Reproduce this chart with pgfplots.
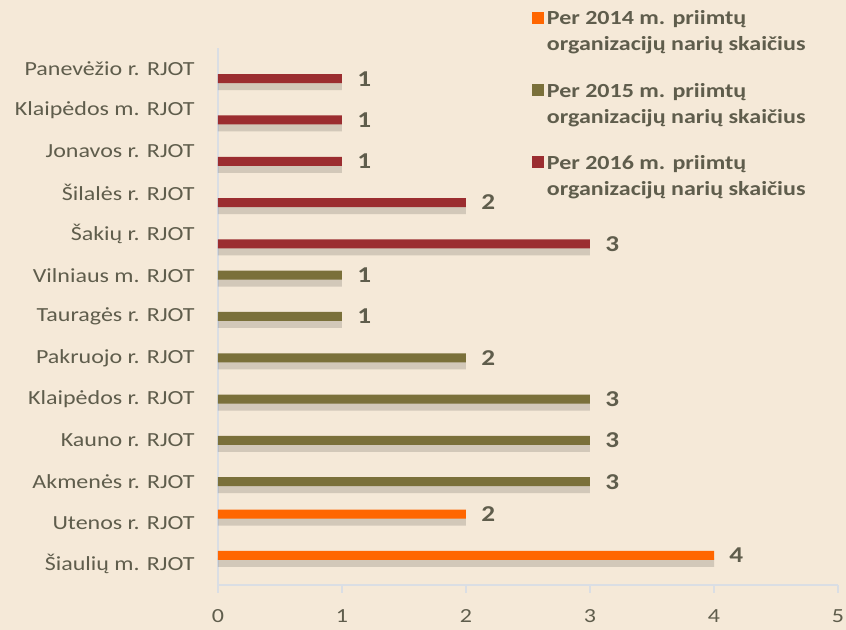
\documentclass[border=0pt]{standalone}
\usepackage{pgfplots}
\pgfplotsset{compat=1.18}
\usepackage{fontspec}
\setmainfont[FakeStretch=1.2]{Carlito}
\definecolor{bgc}{RGB}{245,233,216}
\definecolor{txt}{RGB}{95,93,76}
\definecolor{axc}{RGB}{218,222,228}
\definecolor{c14}{RGB}{255,102,0}
\definecolor{c15}{RGB}{122,112,58}
\definecolor{c16}{RGB}{155,45,48}

\begin{document}
\begin{tikzpicture}
\fill[bgc] (-163.5pt,-33.75pt) rectangle (471pt,438.75pt);
\begin{axis}[
    at={(0,0)}, anchor=south west,
    scale only axis,
    width=465pt, height=402.75pt,
    xbar, bar width=6.75pt,
    xmin=0, xmax=5, ymin=-0.5, ymax=12.5,
    axis x line*=bottom, axis y line*=left,
    axis line style={axc, line width=0.8pt},
    xtick={0,1,2,3,4,5},
    ytick={0,...,12},
    yticklabels={Šiaulių m. RJOT, Utenos r. RJOT, Akmenės r. RJOT, Kauno r. RJOT,
      Klaipėdos r. RJOT, Pakruojo r. RJOT, Tauragės r. RJOT, Vilniaus m. RJOT,
      Šakių r. RJOT, Šilalės r. RJOT, Jonavos r. RJOT, Klaipėdos m. RJOT, Panevėžio r. RJOT},
    minor ytick={-0.5,0.5,...,12.5},
    tick align=outside,
    major tick style={axc, line width=0.8pt},
    minor tick style={axc, line width=0.8pt},
    ytick style={draw=none},
    minor tick length=6pt,
    xtick style={axc, line width=0.8pt},
    major tick length=6pt,
    yticklabel style={font=\fontsize{15}{18}\selectfont, text=txt, xshift=-8pt},
    xticklabel style={font=\fontsize{15}{18}\selectfont, text=txt, yshift=-9pt},
    /pgf/number format/assume math mode=true,
    clip=false,
    nodes near coords,
    nodes near coords style={font=\bfseries\fontsize{17}{20}\selectfont, text=txt, anchor=west, xshift=8pt},
    legend style={at={(0.5,1.105)}, anchor=north west, draw=none, fill=none,
      font=\bfseries\fontsize{15}{19.5}\selectfont, text=txt,
      cells={align=left, anchor=north west}, row sep=8.5pt,
      /tikz/every even column/.append style={column sep=11pt}},
    legend image code/.code={\path (0pt,10pt); \fill[#1] (0pt,-11.75pt) rectangle (9pt,-2.75pt);},
]
% shadows
\addplot[forget plot, fill=black, opacity=0.14, draw=none, bar shift=1.5pt, nodes near coords={}] coordinates {(4,0) (2,1)};
\addplot[forget plot, fill=black, opacity=0.14, draw=none, bar shift=-5.25pt, nodes near coords={}] coordinates {(3,2) (3,3) (3,4) (2,5) (1,6) (1,7)};
\addplot[forget plot, fill=black, opacity=0.14, draw=none, bar shift=-12.75pt, nodes near coords={}] coordinates {(3,8) (2,9) (1,10) (1,11) (1,12)};
% bars
\addplot[fill=c14, draw=none, bar shift=6.75pt] coordinates {(4,0) (2,1)};
\addlegendentry{Per 2014 m. priimtų\\organizacijų narių skaičius}
\addplot[fill=c15, draw=none, bar shift=0pt] coordinates {(3,2) (3,3) (3,4) (2,5) (1,6) (1,7)};
\addlegendentry{Per 2015 m. priimtų\\organizacijų narių skaičius}
\addplot[fill=c16, draw=none, bar shift=-7.5pt] coordinates {(3,8) (2,9) (1,10) (1,11) (1,12)};
\addlegendentry{Per 2016 m. priimtų\\organizacijų narių skaičius}
\end{axis}
\pgfresetboundingbox
\path[use as bounding box] (-163.5pt,-33.75pt) rectangle (471pt,438.75pt);
\end{tikzpicture}
\end{document}
